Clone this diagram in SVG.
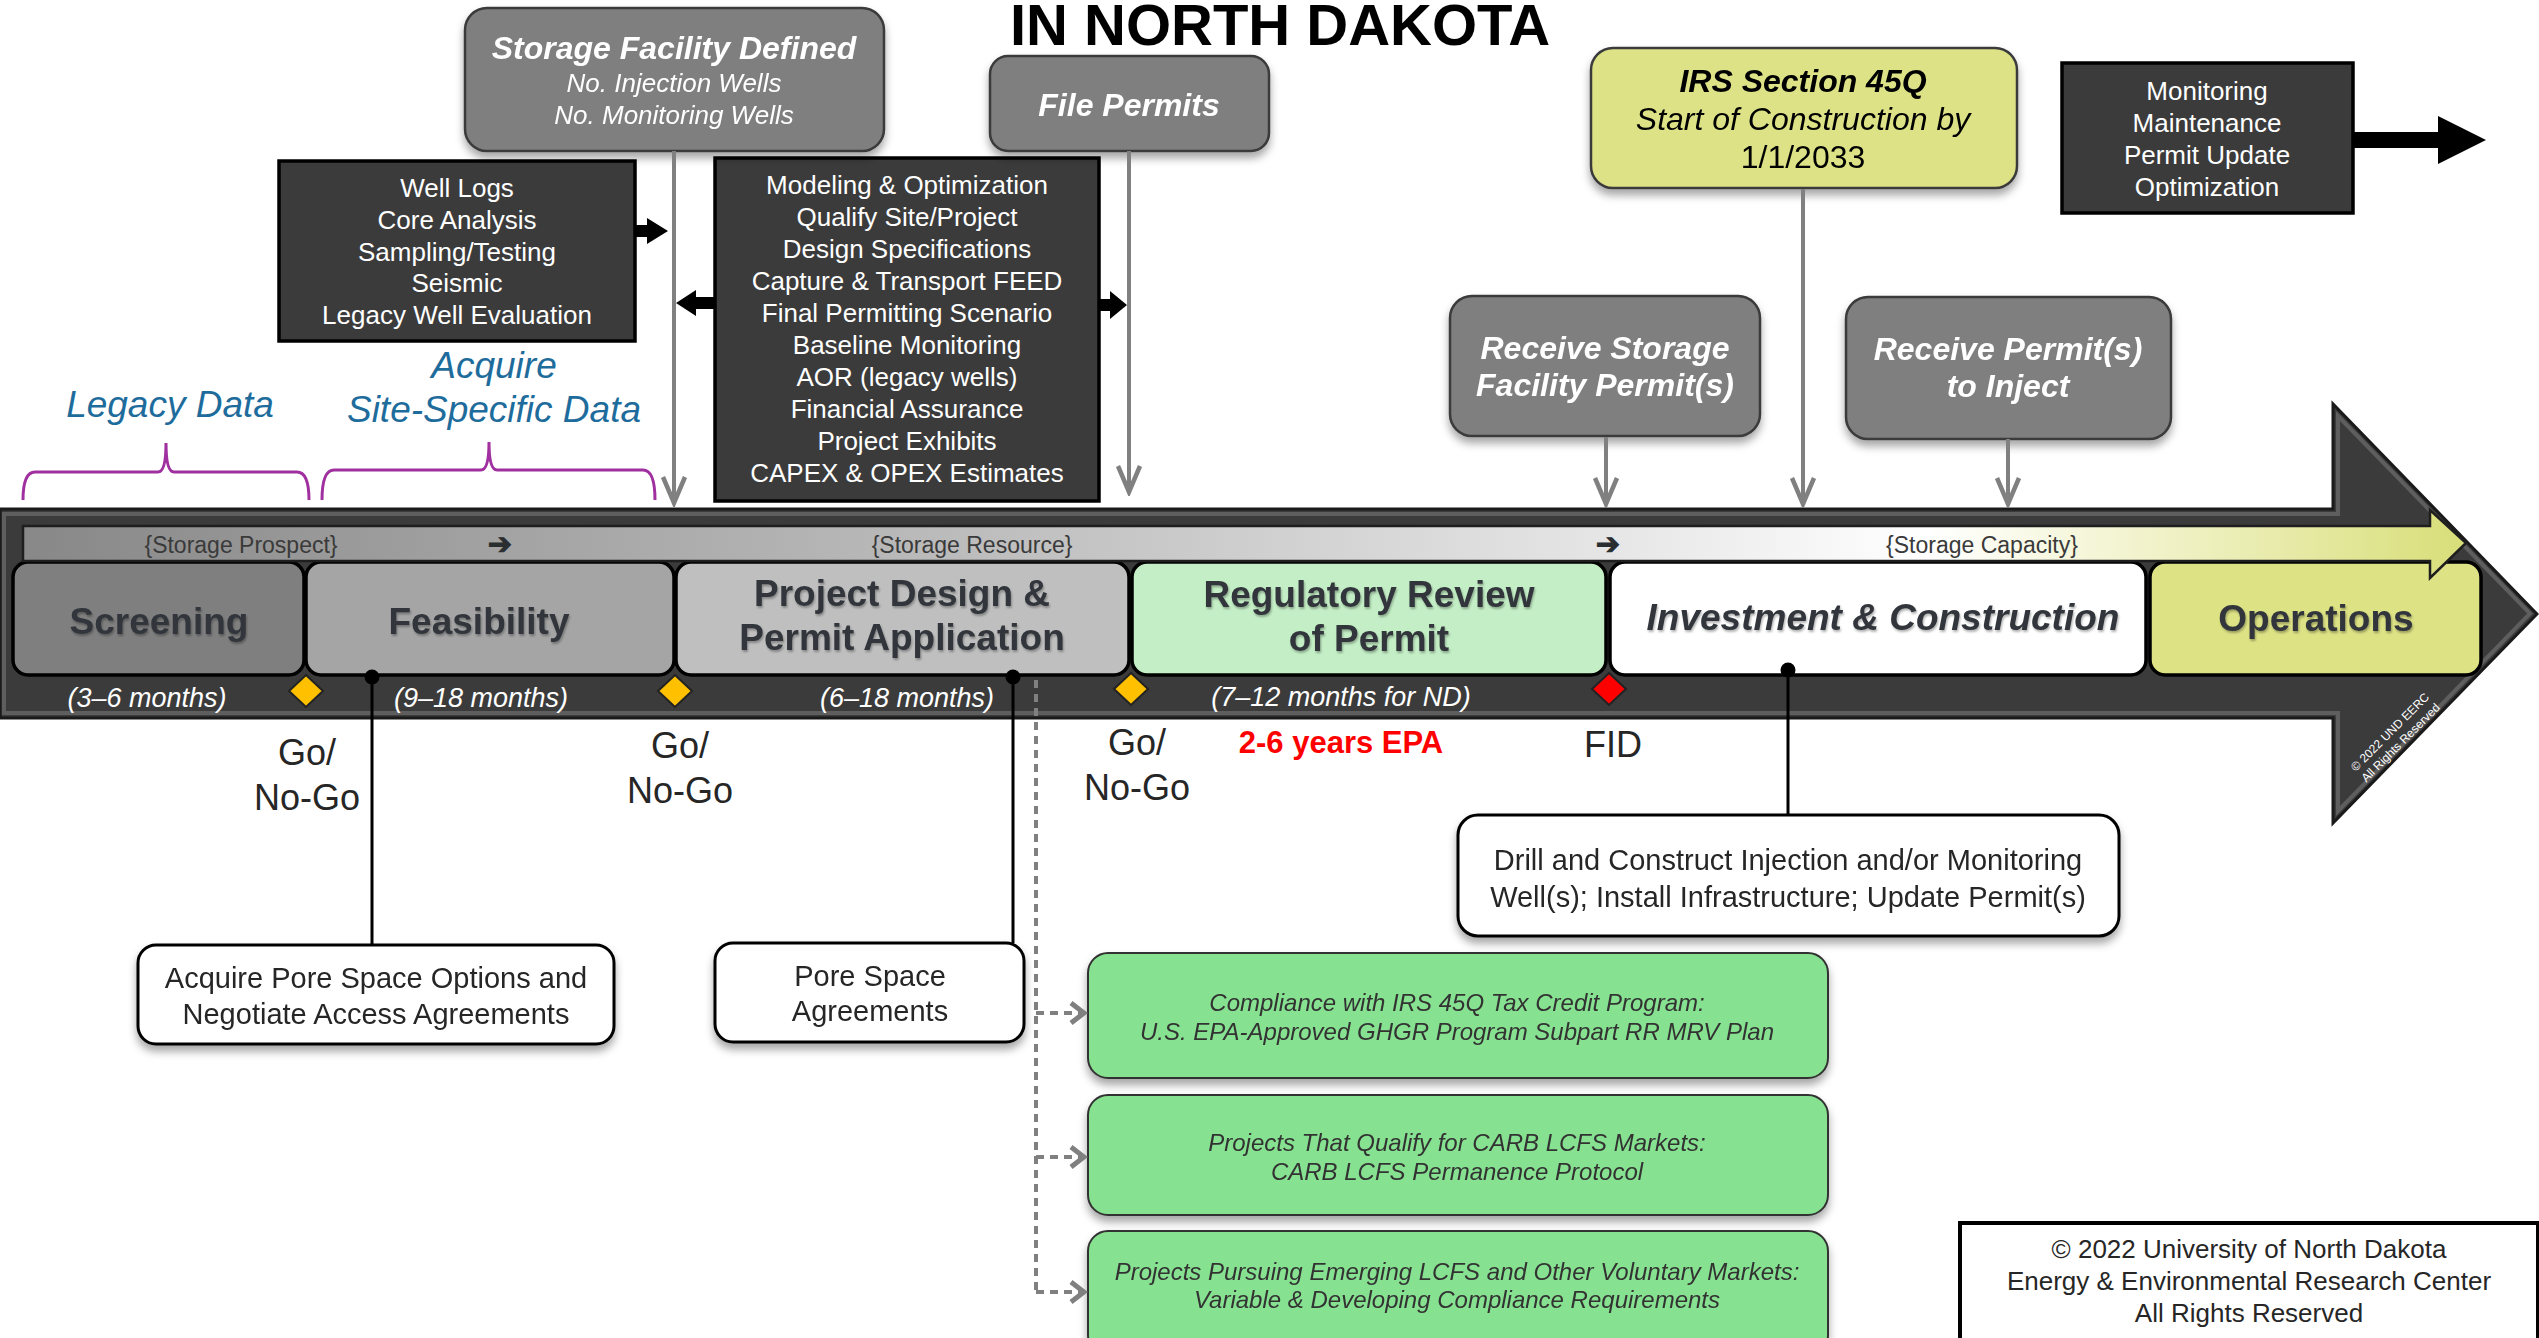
<svg xmlns="http://www.w3.org/2000/svg" width="2539" height="1338" viewBox="0 0 2539 1338">
<defs>
<style>
text{font-family:"Liberation Sans",Arial,sans-serif}
.c{text-anchor:middle}
.w{fill:#fff}
.gbox{fill:#7f7f7f;stroke:#3a3a3a;stroke-width:2.5}
.gtxt{fill:#fff;font-weight:bold;font-style:italic;font-size:32px;text-anchor:middle}
.dbox{fill:#3b3b3b;stroke:#000;stroke-width:3.5}
.dtxt{fill:#fff;font-size:26px;text-anchor:middle}
.stage{stroke:#000;stroke-width:3.5}
.stxt{font-weight:bold;font-size:37px;fill:#30363a;text-anchor:middle}
.mon{fill:#fff;font-style:italic;font-size:27px;text-anchor:middle}
.wbox{fill:#fff;stroke:#000;stroke-width:3}
.wtxt{fill:#262626;font-size:29px;text-anchor:middle}
.green{fill:#86e190;stroke:#333;stroke-width:2}
.gt{font-style:italic;font-size:24px;fill:#333;text-anchor:middle}
.go{fill:#262626;font-size:36px;text-anchor:middle}
.conn{stroke:#808080;stroke-width:4;fill:none}
.blk{stroke:#000;stroke-width:3;fill:none}
.dash{stroke:#808080;stroke-width:4;fill:none;stroke-dasharray:8 6}
.brace{stroke:#a0309f;stroke-width:3;fill:none}
.band{font-size:23px;fill:#3a3a3a;text-anchor:middle}
.arw{font-family:"DejaVu Sans",sans-serif;font-weight:bold;font-size:29px;fill:#2a2e30;text-anchor:middle;stroke:#2a2e30;stroke-width:1}
.blue{fill:#1e6c9c;font-style:italic;font-size:37px;text-anchor:middle}
.dia{stroke:#222;stroke-width:2}
</style>
<filter id="sh" x="-10%" y="-10%" width="120%" height="150%"><feDropShadow dx="0" dy="6" stdDeviation="4" flood-color="#000" flood-opacity="0.35"/></filter>
<filter id="ts" x="-5%" y="-20%" width="110%" height="150%"><feDropShadow dx="1" dy="2" stdDeviation="1.2" flood-color="#000" flood-opacity="0.3"/></filter>
<marker id="ah" markerUnits="userSpaceOnUse" viewBox="-32 -16 36 32" markerWidth="36" markerHeight="32" refX="0" refY="0" orient="auto"><path d="M-26,-11 L0,0 L-26,11" fill="none" stroke="#808080" stroke-width="4.5"/></marker>
<marker id="ahs" markerUnits="userSpaceOnUse" viewBox="-18 -14 22 28" markerWidth="22" markerHeight="28" refX="0" refY="0" orient="auto"><path d="M-13,-10 L0,0 L-13,10" fill="none" stroke="#808080" stroke-width="5"/></marker>
<linearGradient id="inner" gradientUnits="userSpaceOnUse" x1="23" y1="0" x2="2466" y2="0">
<stop offset="0" stop-color="#888"/><stop offset="0.39" stop-color="#bdbdbd"/><stop offset="0.65" stop-color="#e6e6e6"/><stop offset="0.78" stop-color="#fff"/><stop offset="0.89" stop-color="#eef0bf"/><stop offset="1" stop-color="#d8de78"/>
</linearGradient>
</defs>

<text x="1280" y="45" font-size="58" font-weight="bold" text-anchor="middle" fill="#000">IN NORTH DAKOTA</text>

<!-- main timeline arrow -->
<g id="timeline">
<path d="M0,509 H2333 V404 L2537,614 L2333,823 V718 H0 Z" fill="#3b3b3b" stroke="#1a1a1a" stroke-width="3"/>
<path d="M4,514 H2338 V416 L2530,613.5 L2338,811 V713 H4 Z" fill="none" stroke="#5e5e5e" stroke-width="4"/>
<g transform="translate(2395,737) rotate(-45)" fill="#fff" font-size="12" text-anchor="middle"><text y="-3">© 2022 UND EERC</text><text y="12">All Rights Reserved</text></g>
</g>

<!-- stages -->
<g id="stage-screening"><rect class="stage" x="13" y="562" width="291" height="113" rx="15" fill="#7f7f7f"/><text class="stxt" x="159" y="634" filter="url(#ts)">Screening</text></g>
<g id="stage-feasibility"><rect class="stage" x="306" y="562" width="368" height="113" rx="15" fill="#a5a5a5"/><text class="stxt" x="479" y="634" filter="url(#ts)">Feasibility</text></g>
<g id="stage-design"><rect class="stage" x="676" y="562" width="453" height="113" rx="15" fill="#bfbfbf"/><text class="stxt" x="902" y="606" filter="url(#ts)">Project Design &amp;</text><text class="stxt" x="902" y="650" filter="url(#ts)">Permit Application</text></g>
<g id="stage-regulatory"><rect class="stage" x="1132" y="562" width="474" height="113" rx="15" fill="#c4efc6"/><text class="stxt" x="1369" y="607" filter="url(#ts)">Regulatory Review</text><text class="stxt" x="1369" y="651" filter="url(#ts)">of Permit</text></g>
<g id="stage-investment"><rect class="stage" x="1610" y="562" width="536" height="113" rx="15" fill="#fff"/><text class="stxt" x="1883" y="630" font-style="italic" filter="url(#ts)">Investment &amp; Construction</text></g>
<g id="stage-operations"><rect class="stage" x="2150" y="562" width="331" height="113" rx="15" fill="#dde285"/><text class="stxt" x="2316" y="631" filter="url(#ts)">Operations</text></g>

<!-- inner gradient arrow -->
<g id="resource-arrow">
<path d="M23,526 H2430 V510 L2466,543 L2430,578 V561 H23 Z" fill="url(#inner)" stroke="#1e1e1e" stroke-width="2.5"/>
<text class="band" x="241" y="553">{Storage Prospect}</text>
<text class="arw" x="500" y="554">➔</text>
<text class="band" x="972" y="553">{Storage Resource}</text>
<text class="arw" x="1608" y="554">➔</text>
<text class="band" x="1982" y="553">{Storage Capacity}</text>
</g>

<!-- durations and diamonds -->
<g id="durations">
<text class="mon" x="147" y="707">(3–6 months)</text>
<text class="mon" x="481" y="707">(9–18 months)</text>
<text class="mon" x="907" y="707">(6–18 months)</text>
<text class="mon" x="1341" y="706">(7–12 months for ND)</text>
<path class="dia" d="M306,675 L323,691 L306,707 L289,691 Z" fill="#ffc000"/>
<path class="dia" d="M675,675 L692,691 L675,707 L658,691 Z" fill="#ffc000"/>
<path class="dia" d="M1131,673 L1148,689 L1131,705 L1114,689 Z" fill="#ffc000"/>
<path class="dia" d="M1609,673 L1626,689 L1609,705 L1592,689 Z" fill="#ff0000"/>
</g>

<g id="decisions">
<text class="go" x="307" y="765">Go/</text><text class="go" x="307" y="810">No-Go</text>
<text class="go" x="680" y="758">Go/</text><text class="go" x="680" y="803">No-Go</text>
<text class="go" x="1137" y="755">Go/</text><text class="go" x="1137" y="800">No-Go</text>
<text x="1341" y="753" font-size="31" font-weight="bold" fill="#ff0000" text-anchor="middle">2-6 years EPA</text>
<text class="go" x="1613" y="757">FID</text>
</g>

<!-- labels above -->
<g id="legacy-data">
<text class="blue" x="170" y="417">Legacy Data</text>
<path class="brace" d="M23,500 Q23,472 35,472 L158,472 Q166,472 166,443 Q166,472 174,472 L297,472 Q309,472 309,500"/>
</g>
<g id="site-specific-data">
<text class="blue" x="494" y="378">Acquire</text>
<text class="blue" x="494" y="422">Site-Specific Data</text>
<path class="brace" d="M322,500 Q322,470 334,470 L481,470 Q489,470 489,442 Q489,470 497,470 L643,470 Q655,470 655,500"/>
</g>

<g id="well-logs">
<rect class="dbox" x="279" y="161" width="356" height="180"/>
<text class="dtxt" x="457" y="197">Well Logs</text>
<text class="dtxt" x="457" y="229">Core Analysis</text>
<text class="dtxt" x="457" y="261">Sampling/Testing</text>
<text class="dtxt" x="457" y="292">Seismic</text>
<text class="dtxt" x="457" y="324">Legacy Well Evaluation</text>
</g>

<g id="modeling">
<rect class="dbox" x="715" y="158" width="384" height="343"/>
<text class="dtxt" x="907" y="194">Modeling &amp; Optimization</text>
<text class="dtxt" x="907" y="226">Qualify Site/Project</text>
<text class="dtxt" x="907" y="258">Design Specifications</text>
<text class="dtxt" x="907" y="290">Capture &amp; Transport FEED</text>
<text class="dtxt" x="907" y="322">Final Permitting Scenario</text>
<text class="dtxt" x="907" y="354">Baseline Monitoring</text>
<text class="dtxt" x="907" y="386">AOR (legacy wells)</text>
<text class="dtxt" x="907" y="418">Financial Assurance</text>
<text class="dtxt" x="907" y="450">Project Exhibits</text>
<text class="dtxt" x="907" y="482">CAPEX &amp; OPEX Estimates</text>
</g>

<g id="monitoring">
<rect class="dbox" x="2062" y="63" width="291" height="150"/>
<text class="dtxt" x="2207" y="100">Monitoring</text>
<text class="dtxt" x="2207" y="132">Maintenance</text>
<text class="dtxt" x="2207" y="164">Permit Update</text>
<text class="dtxt" x="2207" y="196">Optimization</text>
</g>

<g id="storage-facility-defined" filter="url(#sh)">
<rect class="gbox" x="465" y="8" width="419" height="143" rx="22"/>
<text class="gtxt" x="674" y="59" font-size="31">Storage Facility Defined</text>
<text x="674" y="92" fill="#fff" font-style="italic" font-size="26" text-anchor="middle">No. Injection Wells</text>
<text x="674" y="124" fill="#fff" font-style="italic" font-size="26" text-anchor="middle">No. Monitoring Wells</text>
</g>

<g id="file-permits" filter="url(#sh)">
<rect class="gbox" x="990" y="56" width="279" height="95" rx="18"/>
<text class="gtxt" x="1129" y="116">File Permits</text>
</g>

<g id="irs-45q" filter="url(#sh)">
<rect x="1591" y="48" width="426" height="140" rx="22" fill="#dce285" stroke="#3a3a3a" stroke-width="2.5"/>
<text x="1803" y="92" font-size="32" font-weight="bold" font-style="italic" text-anchor="middle">IRS Section 45Q</text>
<text x="1803" y="130" font-size="32" font-style="italic" text-anchor="middle">Start of Construction by</text>
<text x="1803" y="168" font-size="32" text-anchor="middle">1/1/2033</text>
</g>

<g id="receive-storage" filter="url(#sh)">
<rect class="gbox" x="1450" y="296" width="310" height="140" rx="22"/>
<text class="gtxt" x="1605" y="359">Receive Storage</text>
<text class="gtxt" x="1605" y="396">Facility Permit(s)</text>
</g>

<g id="receive-inject" filter="url(#sh)">
<rect class="gbox" x="1846" y="297" width="325" height="142" rx="22"/>
<text class="gtxt" x="2008" y="360">Receive Permit(s)</text>
<text class="gtxt" x="2008" y="397">to Inject</text>
</g>

<g id="acquire-pore" filter="url(#sh)">
<rect class="wbox" x="138" y="945" width="476" height="99" rx="18"/>
<text class="wtxt" x="376" y="988">Acquire Pore Space Options and</text>
<text class="wtxt" x="376" y="1024">Negotiate Access Agreements</text>
</g>

<g id="pore-space" filter="url(#sh)">
<rect class="wbox" x="715" y="943" width="309" height="99" rx="18"/>
<text class="wtxt" x="870" y="986">Pore Space</text>
<text class="wtxt" x="870" y="1021">Agreements</text>
</g>

<g id="drill" filter="url(#sh)">
<rect class="wbox" x="1458" y="815" width="661" height="121" rx="20"/>
<text class="wtxt" x="1788" y="870">Drill and Construct Injection and/or Monitoring</text>
<text class="wtxt" x="1788" y="907">Well(s); Install Infrastructure; Update Permit(s)</text>
</g>

<g id="irs-compliance" filter="url(#sh)">
<rect class="green" x="1088" y="953" width="740" height="125" rx="20"/>
<text class="gt" x="1457" y="1011">Compliance with IRS 45Q Tax Credit Program:</text>
<text class="gt" x="1457" y="1040">U.S. EPA-Approved GHGR Program Subpart RR MRV Plan</text>
</g>
<g id="carb-lcfs" filter="url(#sh)">
<rect class="green" x="1088" y="1095" width="740" height="120" rx="20"/>
<text class="gt" x="1457" y="1151">Projects That Qualify for CARB LCFS Markets:</text>
<text class="gt" x="1457" y="1180">CARB LCFS Permanence Protocol</text>
</g>
<g id="voluntary" filter="url(#sh)">
<rect class="green" x="1088" y="1231" width="740" height="125" rx="20"/>
<text class="gt" x="1457" y="1280">Projects Pursuing Emerging LCFS and Other Voluntary Markets:</text>
<text class="gt" x="1457" y="1308">Variable &amp; Developing Compliance Requirements</text>
</g>

<g id="copyright">
<rect x="1960" y="1223" width="578" height="120" fill="#fff" stroke="#000" stroke-width="4"/>
<text x="2249" y="1258" font-size="26" text-anchor="middle" fill="#262626">© 2022 University of North Dakota</text>
<text x="2249" y="1290" font-size="26" text-anchor="middle" fill="#262626">Energy &amp; Environmental Research Center</text>
<text x="2249" y="1322" font-size="26" text-anchor="middle" fill="#262626">All Rights Reserved</text>
</g>

<g id="connectors">
<line class="conn" x1="674" y1="151" x2="674" y2="503" marker-end="url(#ah)"/>
<line class="conn" x1="1129" y1="151" x2="1129" y2="492" marker-end="url(#ah)"/>
<line class="conn" x1="1803" y1="189" x2="1803" y2="504" marker-end="url(#ah)"/>
<line class="conn" x1="1606" y1="437" x2="1606" y2="504" marker-end="url(#ah)"/>
<line class="conn" x1="2008" y1="439" x2="2008" y2="504" marker-end="url(#ah)"/>
<path d="M634,225 H647 V218 L668,231 L647,244 V237 H634 Z" fill="#000"/>
<path d="M715,297 H696 V290 L676,303 L696,316 V309 H715 Z" fill="#000"/>
<path d="M1099,299 H1110 V291 L1127,305 L1110,319 V311 H1099 Z" fill="#000"/>
<path d="M2353,132 H2438 V116 L2486,140 L2438,164 V148 H2353 Z" fill="#000"/>
<line class="blk" x1="372" y1="677" x2="372" y2="945"/>
<circle cx="372" cy="677" r="7.5" fill="#000"/>
<line class="blk" x1="1013" y1="677" x2="1013" y2="943"/>
<circle cx="1013" cy="677" r="7.5" fill="#000"/>
<line class="blk" x1="1788" y1="670" x2="1788" y2="815"/>
<circle cx="1788" cy="670" r="7.5" fill="#000"/>
<path class="dash" d="M1036,680 V1295"/>
<path class="dash" d="M1036,1013 H1084" marker-end="url(#ahs)"/>
<path class="dash" d="M1036,1157 H1084" marker-end="url(#ahs)"/>
<path class="dash" d="M1036,1292 H1084" marker-end="url(#ahs)"/>
</g>
</svg>
